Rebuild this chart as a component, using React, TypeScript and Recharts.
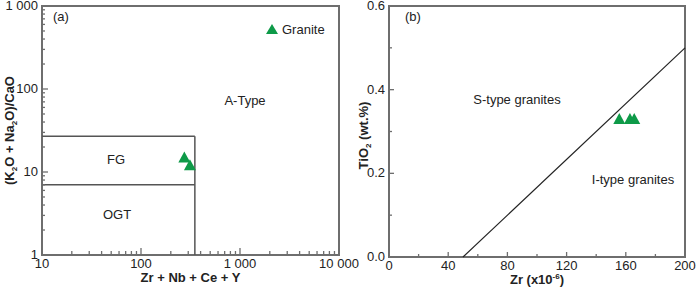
import React from "react"
import { ReferenceArea, ReferenceLine, Scatter, ScatterChart, XAxis, YAxis } from "recharts"

// (a) Zr+Nb+Ce+Y vs (K2O+Na2O)/CaO
const sumTicks = [10, 20, 30, 40, 50, 60, 70, 80, 90, 100, 200, 300, 400, 500, 600, 700, 800, 900, 1000, 2000, 3000, 4000, 5000, 6000, 7000, 8000, 9000, 10000]
const ratioTicks = [1, 2, 3, 4, 5, 6, 7, 8, 9, 10, 20, 30, 40, 50, 60, 70, 80, 90, 100, 200, 300, 400, 500, 600, 700, 800, 900, 1000]
const logLabels: Record<number, string> = { 1: "1", 10: "10", 100: "100", 1000: "1 000", 10000: "10 000" }
const sampleSum = [274, 312]
const sampleRatio = [15, 12.1]
// field boundaries
const fgTop = 27
const ogtTop = 7
const boxRight = 350

// (b) Zr vs TiO2
const zrTicks = [0, 20, 40, 60, 80, 100, 120, 140, 160, 180, 200]
const tiTicks = [0, 0.1, 0.2, 0.3, 0.4, 0.5, 0.6]
const sampleZr = [155.6, 162.8, 165.7]
const sampleTi = [0.33, 0.33, 0.33]
const divider = [
  { x: 50, y: 0 },
  { x: 200, y: 0.5 },
]

const dataA = sampleSum.map((v, i) => ({ x: v, y: sampleRatio[i] }))
const dataB = sampleZr.map((v, i) => ({ x: v, y: sampleTi[i] }))

const frame = "#6e6e6e"
const green = "#0e9a48"
const font = "'Liberation Sans', Arial, sans-serif"

const isMajorLog = (v: number) => logLabels[v] !== undefined

const Triangle = (props: any) => {
  const { cx, cy } = props
  return <polygon points={`${cx},${cy - 6} ${cx - 6},${cy + 5} ${cx + 6},${cy + 5}`} fill={green} />
}

const BottomTick = (isMajor: (v: number) => boolean, fmt: (v: number) => string, len: [number, number]) => (props: any) => {
  const { x, y, payload } = props
  const major = isMajor(payload.value)
  return (
    <g>
      <line x1={x} y1={y} x2={x} y2={y - (major ? len[0] : len[1])} stroke={frame} strokeWidth={1.3} />
      {major && (
        <text x={x} y={y + 13} textAnchor="middle" fontSize={13} fill="#222" fontFamily={font}>
          {fmt(payload.value)}
        </text>
      )}
    </g>
  )
}

const LeftTick = (isMajor: (v: number) => boolean, fmt: (v: number) => string, len: [number, number]) => (props: any) => {
  const { x, y, payload } = props
  const major = isMajor(payload.value)
  return (
    <g>
      <line x1={x} y1={y} x2={x + (major ? len[0] : len[1])} y2={y} stroke={frame} strokeWidth={1.3} />
      {major && (
        <text x={x - 4} y={y + 4} textAnchor="end" fontSize={13} fill="#222" fontFamily={font}>
          {fmt(payload.value)}
        </text>
      )}
    </g>
  )
}

const txt = { fontFamily: font, fontSize: 13, fill: "#222" } as const

export default function App() {
  return (
    <div style={{ position: "absolute", left: 0, top: 0, width: 700, height: 288, background: "#fff", fontFamily: font }}>
      <div style={{ position: "absolute", left: 0, top: 0 }}>
        <ScatterChart width={362} height={288} margin={{ top: 6, right: 23, bottom: 0, left: 0 }}>
          <XAxis
            type="number"
            dataKey="x"
            scale="log"
            domain={[10, 10000]}
            ticks={sumTicks}
            interval={0}
            allowDataOverflow
            height={33}
            tickSize={0}
            tickMargin={0}
            axisLine={false}
            tickLine={false}
            tick={BottomTick(isMajorLog, (v) => logLabels[v], [7, 4])}
            label={(p: any) => {
              const vb = p.viewBox
              return (
                <text x={vb.x + vb.width / 2} y={vb.y + 27} textAnchor="middle" fontWeight="bold" {...txt}>
                  Zr + Nb + Ce + Y
                </text>
              )
            }}
          />
          <YAxis
            type="number"
            dataKey="y"
            scale="log"
            domain={[1, 1000]}
            ticks={ratioTicks}
            interval={0}
            allowDataOverflow
            width={42}
            tickSize={0}
            tickMargin={0}
            axisLine={false}
            tickLine={false}
            tick={LeftTick(isMajorLog, (v) => logLabels[v], [6, 3])}
            label={(p: any) => {
              const vb = p.viewBox
              const cx = 14
              const cy = vb.y + vb.height / 2
              return (
                <text x={cx} y={cy} transform={`rotate(-90 ${cx} ${cy})`} textAnchor="middle" fontWeight="bold" {...txt}>
                  (K<tspan fontSize={8} dy={3}>2</tspan>
                  <tspan dy={-3}>O + Na</tspan>
                  <tspan fontSize={8} dy={3}>2</tspan>
                  <tspan dy={-3}>O)/CaO</tspan>
                </text>
              )
            }}
          />
          <ReferenceArea x1={10} x2={10000} y1={1} y2={1000} fill="none" stroke={frame} strokeWidth={2} ifOverflow="visible" />
          <ReferenceLine segment={[{ x: 10, y: fgTop }, { x: boxRight, y: fgTop }]} stroke="#555" strokeWidth={1.5} />
          <ReferenceLine segment={[{ x: 10, y: ogtTop }, { x: boxRight, y: ogtTop }]} stroke="#555" strokeWidth={1.5} />
          <ReferenceLine segment={[{ x: boxRight, y: 1 }, { x: boxRight, y: fgTop }]} stroke="#555" strokeWidth={1.5} />
          <Scatter data={dataA} shape={Triangle} isAnimationActive={false} />
        </ScatterChart>
        <svg width={362} height={288} style={{ position: "absolute", left: 0, top: 0, pointerEvents: "none" }}>
          <text x={53} y={21} {...txt}>(a)</text>
          <polygon points="272,24 266,34 278,34" fill={green} />
          <text x={282} y={34} {...txt}>Granite</text>
          <text x={245} y={105} textAnchor="middle" {...txt}>A-Type</text>
          <text x={116} y={164} textAnchor="middle" {...txt}>FG</text>
          <text x={117} y={219} textAnchor="middle" {...txt}>OGT</text>
        </svg>
      </div>

      <div style={{ position: "absolute", left: 350, top: 0 }}>
        <ScatterChart width={350} height={288} margin={{ top: 6, right: 15, bottom: 0, left: 0 }}>
          <XAxis
            type="number"
            dataKey="x"
            domain={[0, 200]}
            ticks={zrTicks}
            interval={0}
            height={31}
            tickSize={0}
            tickMargin={0}
            axisLine={false}
            tickLine={false}
            tick={BottomTick((v) => v % 40 === 0, (v) => String(v), [5, 3])}
            label={(p: any) => {
              const vb = p.viewBox
              return (
                <text x={vb.x + vb.width / 2} y={vb.y + 27} textAnchor="middle" fontWeight="bold" {...txt}>
                  Zr (x10<tspan fontSize={8} dy={-5}>-6</tspan>
                  <tspan dy={5}>)</tspan>
                </text>
              )
            }}
          />
          <YAxis
            type="number"
            dataKey="y"
            domain={[0, 0.6]}
            ticks={tiTicks}
            interval={0}
            width={39}
            tickSize={0}
            tickMargin={0}
            axisLine={false}
            tickLine={false}
            tick={LeftTick((v) => Math.round(v * 10) % 2 === 0, (v) => v.toFixed(1), [5, 3])}
            label={(p: any) => {
              const vb = p.viewBox
              const cx = 18
              const cy = vb.y + vb.height / 2 + 4
              return (
                <text x={cx} y={cy} transform={`rotate(-90 ${cx} ${cy})`} textAnchor="middle" fontWeight="bold" {...txt}>
                  TiO<tspan fontSize={8} dy={3}>2</tspan>
                  <tspan dy={-3}> (wt.%)</tspan>
                </text>
              )
            }}
          />
          <ReferenceArea x1={0} x2={200} y1={0} y2={0.6} fill="none" stroke={frame} strokeWidth={2} ifOverflow="visible" />
          <ReferenceLine segment={divider} stroke="#222" strokeWidth={1.2} />
          <Scatter data={dataB} shape={Triangle} isAnimationActive={false} />
        </ScatterChart>
        <svg width={350} height={288} style={{ position: "absolute", left: 0, top: 0, pointerEvents: "none" }}>
          <text x={55} y={21} {...txt}>(b)</text>
          <text x={167} y={104} textAnchor="middle" {...txt}>S-type granites</text>
          <text x={283} y={184} textAnchor="middle" {...txt}>I-type granites</text>
        </svg>
      </div>
    </div>
  )
}
